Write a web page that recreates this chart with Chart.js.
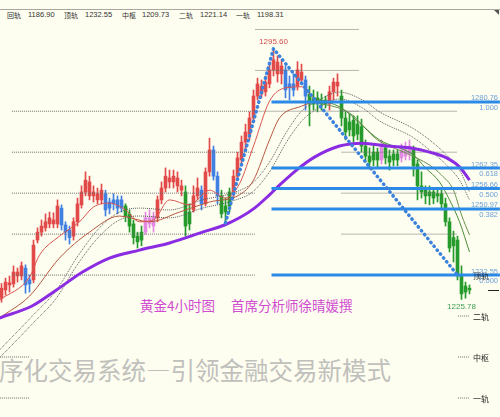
<!DOCTYPE html>
<html lang="zh">
<head>
  <meta charset="UTF-8" />
  <title>黄金4小时图</title>
  <script src="https://cdn.jsdelivr.net/npm/chart.js"></script>
  <style>
    body { margin: 0; background: #fefef0; }
    .wrap {
      position: relative; width: 500px; height: 417px; overflow: hidden;
      background: #fefef0;
      font-family: 'Liberation Sans', 'Noto Sans CJK SC', sans-serif;
    }
    .topline { position: absolute; left: 0; top: 9px; width: 500px; border-top: 1px solid #a8a8a0; }
    .corner {
      position: absolute; right: 1px; top: 10px; width: 0; height: 0;
      border-left: 5px solid transparent; border-top: 5px solid #555;
    }
    #header span { position: absolute; top: 11px; font-size: 7.5px; line-height: 8px; color: #333; white-space: nowrap; }
    #header span.cn { font-family: 'Noto Sans CJK SC', sans-serif; font-size: 7px; }
    .watermark {
      position: absolute; left: -1px; top: 355px;
      font-family: 'Noto Sans CJK SC', sans-serif; font-size: 24.5px; line-height: 30px;
      color: #c0c0bc; white-space: nowrap;
    }
    .title {
      position: absolute; top: 297px;
      font-family: 'Noto Sans CJK SC', sans-serif; font-size: 13.5px; line-height: 17px;
      color: #d04cd0; white-space: nowrap;
    }
    canvas { position: absolute; left: 0; top: 0; }
  </style>
</head>
<body>
  <div class="wrap">
    <div class="topline"></div>
    <div class="corner"></div>
    <div id="header"></div>
    <div class="watermark">序化交易系统—引领金融交易新模式</div>
    <div class="title" style="left:140px">黄金4小时图</div>
    <div class="title" style="left:231px">首席分析师徐晴媛撰</div>
    <canvas id="gold" width="500" height="417"></canvas>
  </div>

  <script>
    // pivot rails shown in the header (name, value)
    const railNames = ['回轨', '顶轨', '中枢', '二轨', '一轨'];
    const railValues = [1186.90, 1232.55, 1209.73, 1221.14, 1198.31];

    // 4h candles
    const opens = [
      1226.1,1228.4,1230.4,1230.1,1233.4,1232.3,1234.5,1230.1,1231.2,1242.3,
      1244.5,1245.7,1246.8,1247.9,1246.8,1251.2,1246.5,1245.1,1243.4,1247.4,
      1252.1,1255.7,1258.5,1254.6,1255.2,1253.5,1255.2,1251.2,1252.4,1253.5,
      1251.2,1251.8,1249.6,1246.8,1243.4,1242.3,1244.5,1248.5,1246.2,1248.5,
      1253.5,1256.8,1259.6,1258.5,1259.6,1257.4,1255.7,1246.8,1250.7,1254.6,
      1256.2,1252.4,1261.3,1267.4,1260.1,1254.6,1250.1,1251.8,1255.2,1260.1,
      1264.6,1269.6,1271.8,1276.3,1282.4,1285.2,1283.6,1285.8,1289.7,1291.9,
      1288.6,1289.7,1284.7,1285.8,1285.2,1289.1,1286.9,1283.0,1280.2,1281.9,
      1280.2,1281.3,1280.2,1283.6,1286.3,1282.4,1276.3,1273.0,1275.7,1271.8,
      1273.9,1268.5,1265.7,1264.6,1266.8,1264.6,1268.0,1265.7,1264.6,1266.3,
      1265.2,1267.4,1266.3,1268.0,1263.5,1257.4,1256.2,1254.6,1255.7,1254.6,
      1255.2,1252.4,1247.4,1240.7,1242.3,1232.3,1227.8,1228.9
    ];
    const highs = [
      1230.2,1231.7,1232.3,1235.1,1234.5,1236.2,1235.4,1232.6,1242.3,1245.7,
      1247.9,1249.6,1250.1,1249.9,1253.5,1252.1,1247.4,1246.2,1248.5,1254.0,
      1257.4,1261.3,1260.1,1257.4,1256.8,1257.9,1256.2,1254.0,1255.2,1254.6,
      1254.6,1252.4,1250.7,1247.9,1244.5,1246.2,1250.1,1250.7,1250.1,1254.6,
      1258.5,1262.4,1261.8,1261.8,1261.3,1259.0,1257.4,1252.4,1257.4,1259.6,
      1257.4,1262.4,1270.7,1268.5,1261.3,1256.2,1254.0,1256.8,1261.8,1266.8,
      1271.3,1274.6,1278.0,1284.1,1287.4,1286.9,1288.0,1291.3,1295.6,1293.6,
      1292.5,1290.8,1288.0,1288.6,1292.0,1291.3,1288.0,1285.2,1284.1,1283.6,
      1283.0,1282.4,1285.2,1287.4,1288.6,1284.1,1278.0,1277.4,1276.9,1276.9,
      1276.0,1270.2,1268.0,1268.5,1267.9,1270.2,1269.1,1267.4,1267.4,1267.4,
      1269.1,1269.6,1270.2,1268.5,1264.6,1261.3,1257.4,1257.4,1256.8,1256.8,
      1256.2,1254.0,1248.5,1244.8,1243.4,1235.1,1230.6,1229.8
    ];
    const lows = [
      1225.0,1227.0,1227.8,1229.2,1230.6,1231.2,1227.5,1227.8,1230.4,1241.5,
      1243.4,1244.8,1245.7,1245.7,1245.7,1245.1,1242.3,1241.2,1242.3,1246.2,
      1251.2,1254.6,1253.5,1252.9,1252.4,1252.4,1249.0,1249.6,1250.7,1249.6,
      1250.1,1247.4,1244.5,1241.2,1240.1,1240.7,1243.9,1245.7,1244.5,1247.4,
      1252.4,1255.7,1256.8,1256.8,1255.7,1254.6,1243.4,1245.1,1250.1,1253.5,
      1250.7,1251.8,1260.1,1259.0,1252.4,1248.5,1247.1,1250.1,1254.0,1259.0,
      1263.5,1267.4,1270.2,1275.2,1281.3,1281.9,1282.4,1284.7,1288.0,1286.3,
      1285.8,1281.9,1281.3,1282.4,1284.1,1285.8,1278.5,1274.1,1278.5,1278.0,
      1278.5,1279.1,1278.5,1281.3,1282.4,1274.1,1270.2,1271.3,1269.6,1270.2,
      1266.8,1264.0,1262.4,1263.0,1262.4,1263.5,1263.5,1261.8,1263.0,1263.0,
      1264.0,1264.6,1264.6,1260.1,1253.5,1254.0,1252.4,1252.1,1252.4,1252.9,
      1250.7,1246.2,1239.0,1236.2,1231.2,1225.78,1226.1,1227.3
    ];
    const closes = [
      1228.9,1230.6,1229.8,1233.4,1232.3,1235.1,1229.8,1231.2,1240.9,1244.5,
      1246.2,1247.4,1248.5,1246.8,1251.8,1246.5,1244.5,1243.0,1247.4,1252.4,
      1255.7,1259.0,1254.6,1255.7,1253.5,1256.2,1250.7,1252.9,1253.5,1251.2,
      1253.5,1249.0,1246.2,1243.0,1241.8,1244.5,1248.5,1246.8,1249.0,1253.5,
      1256.8,1260.1,1258.5,1260.1,1257.4,1256.2,1246.2,1250.1,1254.6,1256.8,
      1252.4,1261.3,1267.4,1260.1,1254.6,1249.6,1251.8,1255.7,1260.1,1265.2,
      1269.6,1272.4,1276.3,1282.4,1285.8,1283.0,1286.3,1289.7,1292.5,1288.6,
      1290.8,1284.1,1285.8,1284.1,1289.7,1286.9,1282.4,1280.2,1281.9,1280.2,
      1281.3,1280.2,1283.6,1286.3,1285.2,1276.3,1272.4,1275.2,1271.3,1274.6,
      1268.5,1265.7,1264.0,1266.8,1264.6,1268.5,1265.2,1264.0,1266.3,1264.6,
      1267.4,1265.7,1268.5,1263.0,1257.4,1255.7,1254.6,1255.7,1254.0,1255.2,
      1252.4,1247.4,1240.1,1243.0,1232.3,1227.3,1229.5,1228.4
    ];
    // trend state of each candle: r = up, b = weak up, g = down, p = weak down
    const signal = [
      'rrrrrrbbrr', 'rrrrrbbbrr', 'rrrrrrbbbb', 'bgggggpppr', 'rrrrrrggrr',
      'brrbbgggrr', 'rrrrrrrrrr', 'rbbbrrbggg', 'ggrrrggggg', 'gggggpgggg',
      'pppggggggg', 'gggggggg'
    ].join('').split('');

    // moving averages as [candle index, price]
    const redFast = [[-0.5,1225.6],[7,1232.0],[9.5,1238.1],[14.5,1243.4],[19.5,1247.4],[23,1251.5],[27,1252.6],[31,1250.7],[34.5,1247.4],[38,1247.9],[42,1253.5],[47,1252.1],[52,1256.2],[56,1254.0],[59.5,1258.0],[63,1268.5],[67,1281.0],[71,1284.7],[75,1285.0],[78,1281.9]];
    const redSlow = [[-0.5,1220.6],[7,1226.7],[14.5,1237.3],[22,1244.5],[29.5,1249.0],[37,1247.4],[44.5,1250.1],[52,1252.9],[59.5,1254.9],[63,1259.0],[67,1270.2],[69.5,1276.3],[75,1279.6],[78,1280.8]];
    const greenFast = [[78,1281.9],[85,1279.1],[90,1274.4],[94.5,1270.2],[103,1266.0],[106,1262.4],[109.5,1258.5],[112,1253.5],[114.5,1247.4],[117,1239.0]];
    const greenSlow = [[78,1280.8],[87,1277.7],[94,1270.2],[101,1266.6],[107,1263.2],[110,1260.4],[113,1256.2],[115,1249.3],[117,1243.7]];
    const bandUpper = [[-0.5,1211.7],[7.75,1221.2],[13.75,1228.4],[18.75,1237.3],[24.5,1245.7],[29.5,1250.1],[34.5,1251.2],[42,1250.7],[50.25,1253.5],[57.75,1255.4],[62.75,1258.2],[67,1264.0],[71.25,1272.4],[75.25,1278.5],[77.75,1280.2],[84.5,1283.5],[90.25,1281.3],[94.5,1278.0],[102.75,1273.5],[107,1270.2],[111.25,1266.0],[114.5,1261.8],[117,1255.7]];
    const bandLower = [[-0.5,1209.5],[7.75,1219.0],[13.75,1226.2],[18.75,1235.1],[24.5,1243.4],[29.5,1247.9],[34.5,1249.0],[42,1248.5],[50.25,1251.2],[57.75,1253.2],[62.75,1255.7],[67,1261.3],[71.25,1269.6],[75.25,1275.7],[77.75,1278.0],[84.5,1281.6],[90.25,1279.1],[94.5,1275.5],[102.75,1271.0],[107,1267.4],[111.25,1263.2],[114.5,1259.0],[117,1253.5]];
    const purpleMa = [[-0.5,1220.6],[7.75,1224.0],[13.75,1228.4],[20.25,1233.4],[27,1237.3],[34.5,1239.5],[42,1241.5],[50.25,1244.5],[55.75,1246.5],[59.5,1248.5],[63.25,1251.2],[67,1254.9],[69.5,1257.6],[73.75,1261.8],[78.25,1265.4],[84.5,1268.5],[90.25,1269.3],[96.25,1268.5],[102.75,1267.9],[107,1266.8],[111.25,1265.2],[114.5,1262.7],[117,1259.0]];

    // swing trend line and fibonacci retracement
    const trendPoints = [[56,1247.1],[68,1295.6],[114,1232.55]];
    const fibLevels = [1280.76, 1262.35, 1256.66, 1250.97, 1232.55];
    const fibRatios = ['1.000', '0.618', '0.500', '0.382', '0.000'];
    const fibFrom = 67.5, fibTo = 124.6;

    // dotted pivot grid segments: [from index, to index, levels]
    const pivotSegs = [
      [2.6, 63.3, [1278.19, 1266.78, 1255.37, 1243.96, 1232.55]],
      [-0.4, 7, [1209.73, 1198.31]],
      [63.5, 89.5, [1300.96, 1289.55, 1278.19]],
      [85, 114, [1278.19, 1266.78, 1255.37, 1243.96]],
      [114.1, 117.1, [1232.55, 1221.14, 1209.73, 1198.31]]
    ];
    const sideRails = [[1232.55, '顶轨'], [1221.14, '二轨'], [1209.73, '中枢'], [1198.31, '一轨']];
    const extremes = [[68, 1295.60, '#d24c4c', -4.5], [115, 1225.78, '#3f9b4f', 9.5]];

    // header
    const header = document.getElementById('header');
    const nameLeft = [7, 64, 122, 179, 236], valueLeft = [28, 85, 142, 200, 257];
    railNames.forEach((n, k) => {
      header.insertAdjacentHTML('beforeend',
        `<span class="cn" style="left:${nameLeft[k]}px">${n}</span>` +
        `<span style="left:${valueLeft[k]}px">${railValues[k].toFixed(2)}</span>`);
    });

    const signalColors = { r: '#e24a4a', b: '#3f80e2', g: '#279a2c', p: '#e38ae3' };
    const candleColors = signal.map(s => signalColors[s]);

    function lineSet(points, color, width, order, extra) {
      return Object.assign({
        type: 'line',
        data: points.map(p => ({ x: p[0], y: p[1] })),
        borderColor: color, borderWidth: width,
        pointRadius: 0, fill: false, tension: 0, order
      }, extra || {});
    }
    const smooth = { cubicInterpolationMode: 'monotone' };
    const dotted = { borderDash: [1, 1] };

    const datasets = [
      { type: 'bar', data: highs.map((h, i) => ({ x: i, y: [lows[i], h] })),
        backgroundColor: candleColors, barThickness: 1, grouped: false, order: 20 },
      { type: 'bar', data: opens.map((o, i) => ({ x: i, y: [o, closes[i]] })),
        backgroundColor: candleColors, barThickness: 3, grouped: false, order: 19 },
      lineSet(bandUpper, '#5a5a5a', 1, 12, Object.assign({}, smooth, dotted)),
      lineSet(bandLower, '#5a5a5a', 1, 12, Object.assign({}, smooth, dotted)),
      lineSet(redFast, '#d9544f', 1, 11, smooth),
      lineSet(redSlow, '#b3563e', 1, 11, smooth),
      lineSet(greenFast, '#4a8c3a', 1, 11, smooth),
      lineSet(greenSlow, '#6b8f4e', 1, 11, smooth),
      lineSet(purpleMa, '#8b2be2', 3, 10, smooth),
      lineSet(trendPoints, '#3b82dc', 3.5, 5, { borderDash: [0.5, 4.5], borderCapStyle: 'round' })
    ];
    pivotSegs.forEach(seg => {
      seg[2].forEach(v => datasets.push(lineSet([[seg[0], v], [seg[1], v]], '#6e6e6e', 1, 15, dotted)));
    });
    fibLevels.forEach(v => datasets.push(lineSet([[fibFrom, v], [fibTo, v]], '#2b8ae8', 3, 8)));

    const labelPlugin = {
      id: 'priceLabels',
      afterDatasetsDraw(chart) {
        const { ctx, scales: { x, y } } = chart;
        ctx.save();
        ctx.textBaseline = 'alphabetic';

        ctx.font = '8px "Noto Sans CJK SC"';
        ctx.fillStyle = '#222';
        ctx.textAlign = 'left';
        sideRails.forEach(([v, name]) => ctx.fillText(name, 473, y.getPixelForValue(v) + 4));

        ctx.font = '7.5px "Liberation Sans"';
        ctx.textAlign = 'right';
        ctx.fillStyle = '#6c9fd6';
        fibLevels.forEach((v, k) => {
          const py = y.getPixelForValue(v);
          ctx.fillText(v.toFixed(2), 498, py - 1.5);
          ctx.fillText(fibRatios[k], 498, py + 8);
        });

        ctx.textAlign = 'center';
        ctx.font = '8px "Liberation Sans"';
        extremes.forEach(([i, v, color, dy]) => {
          ctx.fillStyle = color;
          ctx.fillText(v.toFixed(2), x.getPixelForValue(i), y.getPixelForValue(v) + dy);
        });

        // last price tick
        const py = Math.round(y.getPixelForValue(closes[closes.length - 1])) + 0.5;
        ctx.strokeStyle = '#222';
        ctx.lineWidth = 1;
        ctx.beginPath();
        ctx.moveTo(488, py);
        ctx.lineTo(499, py);
        ctx.stroke();
        ctx.restore();
      }
    };

    new Chart(document.getElementById('gold'), {
      type: 'bar',
      data: { datasets },
      options: {
        responsive: false,
        devicePixelRatio: 1,
        animation: false,
        layout: { padding: 0 },
        plugins: { legend: { display: false }, tooltip: { enabled: false } },
        scales: {
          x: { type: 'linear', min: -0.375, max: 124.625, offset: false, display: false },
          y: { type: 'linear', min: 1193.02, max: 1309.17, beginAtZero: false, display: false }
        }
      },
      plugins: [labelPlugin]
    });
  </script>
</body>
</html>
